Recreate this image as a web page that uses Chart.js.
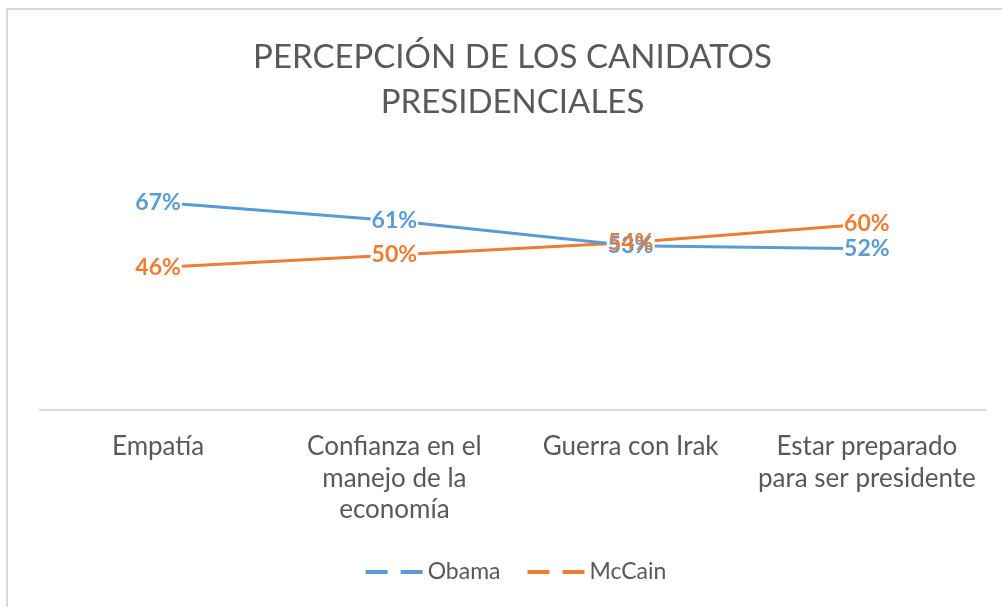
<!DOCTYPE html>
<html>
<head>
<meta charset="utf-8">
<script src="https://cdn.jsdelivr.net/npm/chart.js@4/dist/chart.umd.min.js"></script>
<style>
html,body{margin:0;padding:0;background:#fff;overflow:hidden;}
#wrap{position:absolute;left:0;top:0;width:1002px;height:607px;}
#frame{position:absolute;left:6px;top:8px;width:1100px;height:700px;border:2px solid #d9d9d9;box-sizing:border-box;}
canvas{position:absolute;left:0;top:0;}
</style>
</head>
<body>
<div id="wrap">
<div id="frame"></div>
<canvas id="c" width="1002" height="607"></canvas>
</div>
<script>
const categories = ["Empatía", ["Confianza en el","manejo de la","economía"], "Guerra con Irak", ["Estar preparado","para ser presidente"]];
const obama = [67, 61, 53, 52];
const mccain = [46, 50, 54, 60];
const titleLines = ["PERCEPCIÓN DE LOS CANIDATOS", "PRESIDENCIALES"];
const seriesNames = ["Obama", "McCain"];

const BLUE = '#5B9BD5', ORANGE = '#ED7D31', GREY = '#595959';
const FONT = 'Lato, "Open Sans", sans-serif';

const labelPlugin = {
  id: 'valueLabels',
  afterDatasetsDraw(chart){
    const ctx = chart.ctx;
    ctx.save();
    ctx.font = 'bold 23px ' + FONT;
    ctx.textAlign = 'center';
    ctx.textBaseline = 'middle';
    const items = [];
    chart.data.datasets.forEach((ds, i) => {
      const meta = chart.getDatasetMeta(i);
      meta.data.forEach((pt, j) => {
        const t = ds.data[j] + '%';
        items.push({t, x: pt.x, y: pt.y, c: ds.borderColor, w: ctx.measureText(t).width});
      });
    });
    ctx.fillStyle = '#ffffff';
    items.forEach(it => ctx.fillRect(it.x - it.w / 2 - 1, it.y - 10, it.w + 2, 20));
    items.forEach(it => { ctx.fillStyle = it.c; ctx.fillText(it.t, it.x, it.y); });
    ctx.restore();
  }
};

const legendPlugin = {
  id: 'dashLegend',
  afterDraw(chart){
    const ctx = chart.ctx;
    ctx.save();
    ctx.font = '23px ' + FONT;
    ctx.textBaseline = 'middle';
    const dashW = 57, gapText = 5, gapItem = 27, y = 572;
    const items = chart.data.datasets.map(ds => ({text: ds.label, color: ds.borderColor, w: ctx.measureText(ds.label).width}));
    let total = 0;
    items.forEach((it, i) => { total += dashW + gapText + it.w + (i ? gapItem : 0); });
    let x = 516 - total / 2;
    items.forEach((it, i) => {
      if (i) x += gapItem;
      ctx.fillStyle = it.color;
      ctx.fillRect(x, y - 2, 22, 4);
      ctx.fillRect(x + 35, y - 2, 22, 4);
      x += dashW + gapText;
      ctx.fillStyle = GREY;
      ctx.textAlign = 'left';
      ctx.fillText(it.text, x, y);
      x += it.w;
    });
    ctx.restore();
  }
};

new Chart(document.getElementById('c'), {
  type: 'line',
  data: {
    labels: categories,
    datasets: [
      {label: seriesNames[0], data: obama, borderColor: BLUE, backgroundColor: BLUE, borderWidth: 3, pointRadius: 0, tension: 0},
      {label: seriesNames[1], data: mccain, borderColor: ORANGE, backgroundColor: ORANGE, borderWidth: 3, pointRadius: 0, tension: 0}
    ]
  },
  options: {
    responsive: false,
    animation: false,
    devicePixelRatio: 1,
    layout: {padding: {left: 40, right: 17, top: 27, bottom: 61}},
    plugins: {
      title: {display: true, text: titleLines, color: GREY, font: {family: FONT, size: 33, weight: 'normal', lineHeight: 1.36}, padding: {top: 8, bottom: 37}},
      legend: {display: false},
      tooltip: {enabled: false}
    },
    scales: {
      x: {
        offset: true,
        grid: {display: false, drawTicks: false},
        border: {display: true, color: '#d9d9d9', width: 2},
        ticks: {color: GREY, font: {family: FONT, size: 26, lineHeight: 1.2}, padding: 21, maxRotation: 0, autoSkip: false}
      },
      y: {display: false, min: 0, max: 80}
    }
  },
  plugins: [labelPlugin, legendPlugin]
});
</script>
</body>
</html>
